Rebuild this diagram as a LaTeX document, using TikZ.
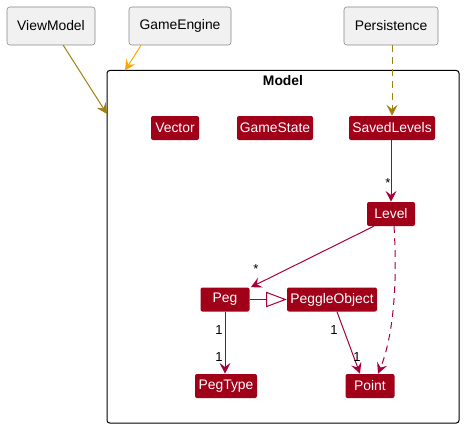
\documentclass[tikz,border=0pt]{standalone}
\usepackage{fontspec}
\setmainfont{Liberation Sans}
\usetikzlibrary{arrows.meta,calc}
\definecolor{clsred}{HTML}{A00018}
\definecolor{linered}{HTML}{A80036}
\definecolor{olivearr}{HTML}{A0800F}
\definecolor{orangearr}{HTML}{FFA500}
\definecolor{compfill}{HTML}{F1F1F1}
\definecolor{compline}{HTML}{888888}
\begin{document}
\begin{tikzpicture}[x=0.75pt,y=-0.75pt,
  comp/.style={draw=compline, fill=compfill, rounded corners=2pt, minimum height=28.5pt, inner sep=0pt, font=\fontsize{10.4pt}{12pt}\selectfont},
  cls/.style={fill=clsred, text=white, rounded corners=1.5pt, minimum height=18pt, inner sep=0pt, font=\fontsize{10.4pt}{12pt}\selectfont},
  lbl/.style={inner sep=0pt, font=\fontsize{9.8pt}{11pt}\selectfont},
  head/.style={-{Stealth[length=8pt,width=8pt,inset=3pt]}},
  assoc/.style={draw=linered, line width=0.75pt, head},
]
\useasboundingbox (0,0) rectangle (464,428);
% components
\node[comp, minimum width=66pt] (vm) at (51,26) {ViewModel};
\node[comp, minimum width=76.5pt] (ge) at (180,26) {GameEngine};
\node[comp, minimum width=70.5pt] (pers) at (391,26) {Persistence};
% frame
\draw[line width=0.75pt, rounded corners=2pt] (107,70.5) rectangle (459,423);
\node[font=\bfseries\fontsize{10.4pt}{12pt}\selectfont] (title) at (283,81) {Model};
% classes
\node[cls, minimum width=36pt] (vec) at (175,128) {Vector};
\node[cls, minimum width=57pt] (gs) at (275,128) {GameState};
\node[cls, minimum width=64.5pt] (saved) at (392,128) {SavedLevels};
\node[cls, minimum width=36pt] (level) at (391,214) {Level};
\node[cls, minimum width=36.75pt] (peg) at (225,299.5) {Peg};
\node[cls, minimum width=67.5pt] (po) at (332,299.5) {PeggleObject};
\node[cls, minimum width=46.5pt] (ptype) at (226,386) {PegType};
\node[cls, minimum width=36.75pt] (pt) at (370,386) {Point};
% frame targets
\coordinate (vmend) at (107,114);
\coordinate (geend) at (125,70.5);
% external arrows
\draw[olivearr, line width=0.75pt, head] (vm) -- (vmend);
\draw[orangearr, line width=0.75pt, head] ($(ge.south west)!0.12!(ge.south east)$) -- (geend);
\draw[olivearr, line width=0.75pt, dash pattern=on 5pt off 4pt, head] (pers.south -| saved.north) -- (saved.north);
% internal
\draw[assoc] (saved.south -| level.north) -- (level.north);
\draw[assoc] ($(level.south west)+(7,0)$) -- ($(peg.north east)+(1,0)$);
\draw[draw=linered, line width=0.75pt, -{Triangle[open, length=15.5pt, width=11.5pt, fill=white]}] (peg.east) -- (po.west);
\draw[assoc] (peg.south) -- (peg.south |- ptype.north);
\draw[assoc] ($(po.south)+(5,0)$) -- ($(pt.north)+(-10,0)$);
\draw[assoc, dash pattern=on 5pt off 4pt] ($(level.south)+(3,0)$) .. controls (398,290) and (392,340) .. ($(pt.north)+(8,0)$);
% labels
\node[lbl] (l1) at (388,183) {*};
\node[lbl] (l2) at (256,269) {*};
\node[lbl] (l3) at (219,330) {1};
\node[lbl] (l4) at (219,357) {1};
\node[lbl] (l5) at (334,330) {1};
\node[lbl] (l6) at (357,357) {1};
\end{tikzpicture}
\end{document}
